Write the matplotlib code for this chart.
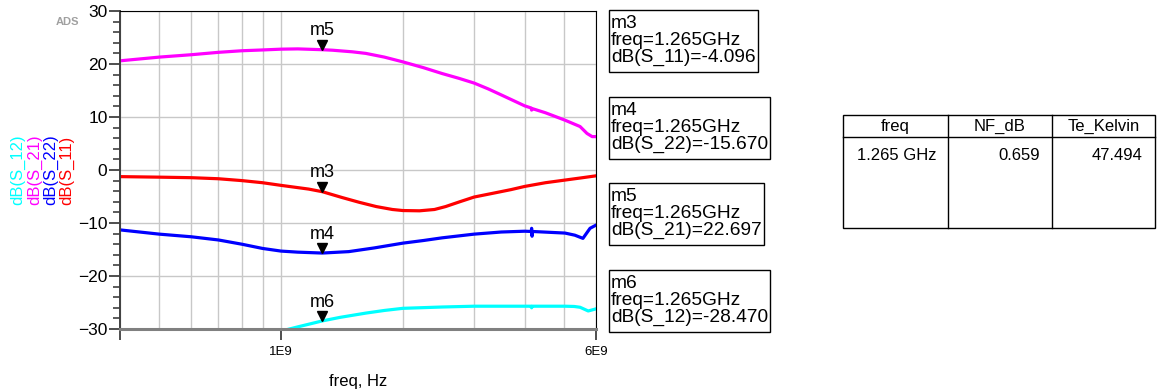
import matplotlib
matplotlib.use('Agg')
import numpy as np
import matplotlib.pyplot as plt
from matplotlib.ticker import FixedLocator, MultipleLocator
from matplotlib.transforms import offset_copy
from matplotlib.patches import Rectangle

plt.rcParams['font.family'] = ['Liberation Sans', 'DejaVu Sans']

# S-parameter sweep of the LNA, frequency in GHz, magnitude in dB
f_s21 = [0.4, 0.5, 0.6, 0.7, 0.8, 0.9, 1.0, 1.1, 1.265, 1.34, 1.5, 1.62, 1.8, 2.0, 2.25,
         2.5, 2.75, 3.0, 3.25, 3.47, 3.75, 4.0, 4.15, 4.16, 4.17, 4.5, 5.03, 5.48, 5.70, 5.87, 6.0]
s21 = [20.6, 21.3, 21.75, 22.2, 22.5, 22.65, 22.8, 22.85, 22.697, 22.6, 22.3, 22.0, 21.3, 20.4, 19.3,
       18.2, 17.3, 16.4, 15.3, 14.3, 13.1, 12.1, 11.7, 11.3, 11.6, 10.8, 9.4, 8.2, 6.9, 6.3, 6.3]

f_s11 = [0.4, 0.5, 0.6, 0.7, 0.8, 0.9, 1.0, 1.17, 1.265, 1.416, 1.561, 1.719, 1.884, 2.0, 2.198,
         2.394, 2.55, 2.762, 3.0, 3.333, 3.7, 4.0, 4.5, 5.03, 5.5, 6.0]
s11 = [-1.25, -1.35, -1.45, -1.65, -2.0, -2.4, -2.9, -3.6, -4.096, -5.2, -6.1, -6.9, -7.45, -7.65, -7.7,
       -7.45, -6.9, -6.0, -5.1, -4.4, -3.7, -3.1, -2.4, -1.9, -1.5, -1.1]

f_s22 = [0.4, 0.5, 0.6, 0.7, 0.8, 0.9, 1.0, 1.1, 1.265, 1.47, 1.7, 2.0, 2.25, 2.5, 3.0,
         3.5, 4.0, 4.15, 4.16, 4.17, 4.18, 5.03, 5.32, 5.57, 5.80, 6.0]
s22 = [-11.3, -12.1, -12.6, -13.2, -14.0, -14.8, -15.3, -15.5, -15.67, -15.4, -14.7, -13.8, -13.3, -12.8, -12.1,
       -11.7, -11.55, -11.6, -11.0, -12.5, -11.6, -11.9, -12.3, -12.9, -11.0, -10.4]

f_s12 = [1.0, 1.1, 1.265, 1.4, 1.62, 1.8, 2.0, 2.5, 3.0, 4.0, 4.15, 4.16, 4.17, 5.03, 5.3, 5.48, 5.74, 6.0]
s12 = [-30.4, -29.6, -28.47, -27.8, -27.0, -26.5, -26.1, -25.85, -25.7, -25.7, -25.7, -26.0, -25.7,
       -25.7, -25.75, -25.9, -26.6, -26.2]

# markers placed at 1.265 GHz
mkr_freq = 1.265
mkr_names = ['m3', 'm4', 'm5', 'm6']
mkr_traces = ['S_11', 'S_22', 'S_21', 'S_12']
mkr_values = [-4.096, -15.670, 22.697, -28.470]
mkr_box_top = [10, 97, 183, 270]

# noise figure listing
table_cols = ['freq', 'NF_dB', 'Te_Kelvin']
nf_freq = '1.265 GHz'
nf_db = 0.659
te_kelvin = 47.494

W, H = 1157, 392
fig = plt.figure(figsize=(W / 100, H / 100), dpi=100)

# overlay in pixel units for the marker readouts and the table
ov = fig.add_axes([0, 0, 1, 1], zorder=0)
ov.set_xlim(0, W)
ov.set_ylim(H, 0)
ov.axis('off')

ax = fig.add_axes([120 / W, 1 - 329 / H, 476 / W, 318 / H], zorder=1)

traces = [('S_11', f_s11, s11, '#ff0000'),
          ('S_22', f_s22, s22, '#0000ff'),
          ('S_21', f_s21, s21, '#ff00ff'),
          ('S_12', f_s12, s12, '#00ffff')]
colors = {}
for name, f, v, c in traces:
    ax.plot(np.array(f) * 1e9, v, color=c, lw=2.3, solid_joinstyle='round')
    colors[name] = c

ax.set_xscale('log')
ax.set_xlim(4e8, 6e9)
ax.set_ylim(-30, 30)

ax.xaxis.set_major_locator(FixedLocator([4e8, 1e9, 6e9]))
ax.set_xticklabels(['', '1E9', '6E9'])
ax.xaxis.set_minor_locator(FixedLocator([5e8, 6e8, 7e8, 8e8, 9e8, 2e9, 3e9, 4e9, 5e9]))
ax.yaxis.set_major_locator(MultipleLocator(10))
ax.yaxis.set_minor_locator(MultipleLocator(2))

ax.grid(axis='x', which='both', color='#c8c8c8', lw=1.0)
ax.grid(axis='y', which='major', color='#c8c8c8', lw=1.0)
ax.set_axisbelow(True)

ax.tick_params(axis='x', which='major', direction='out', length=8, width=1.3,
               color='#404040', labelsize=9.5, pad=4)
ax.tick_params(axis='x', which='minor', length=0)
ax.tick_params(axis='y', which='major', direction='out', length=8, width=1.3,
               color='#404040', labelsize=12.5, pad=1)
ax.tick_params(axis='y', which='minor', direction='out', length=5, width=1.2,
               color='#404040')

ax.spines['left'].set_color('#404040')
ax.spines['left'].set_linewidth(1.4)
ax.spines['bottom'].set_color('#808080')
ax.spines['bottom'].set_linewidth(2.2)
for s in ['top', 'right']:
    ax.spines[s].set_color('black')
    ax.spines[s].set_linewidth(0.8)

ax.set_xlabel('freq, Hz', fontsize=12, labelpad=12)

# marker triangles with their names
tri = offset_copy(ax.transData, fig=fig, y=3.5, units='points')
for name, val in zip(mkr_names, mkr_values):
    ax.plot(mkr_freq * 1e9, val, marker='v', ms=7, color='black', transform=tri,
            clip_on=False, zorder=5)
    ax.annotate(name, (mkr_freq * 1e9, val), xytext=(0, 13.5), textcoords='offset points',
                ha='center', va='center', fontsize=13, zorder=6)

# marker readout boxes, sized to the text
fig.canvas.draw()
renderer = fig.canvas.get_renderer()
for name, tr, val, top in zip(mkr_names, mkr_traces, mkr_values, mkr_box_top):
    txt = '%s\nfreq=%.3fGHz\ndB(%s)=%.3f' % (name, mkr_freq, tr, val)
    t = ov.text(611, top + 5, txt, fontsize=13.8, ha='left', va='top', linespacing=1.0)
    bw = t.get_window_extent(renderer).width
    ov.add_patch(Rectangle((609, top), bw + 4, 62, fill=False, ec='black', lw=1.0))

# trace names down the left side
for i, tr in enumerate(['S_12', 'S_21', 'S_22', 'S_11']):
    ov.text(18 + 16.3 * i, 205, 'dB(%s)' % tr, rotation=90, ha='center', va='bottom',
            fontsize=12, color=colors[tr])

ov.text(67, 22, 'ADS', fontsize=8, fontweight='bold', color='#909090',
        ha='center', va='center', alpha=0.85)

# noise figure table
tx0, tx1, ty0, ty1, th = 843, 1155, 115, 228, 137
col_x = [843, 948, 1052, 1155]
ov.add_patch(Rectangle((tx0, ty0), tx1 - tx0, ty1 - ty0, fill=False, ec='black', lw=1.0))
ov.plot([tx0, tx1], [th, th], color='black', lw=1.0)
for cx in col_x[1:-1]:
    ov.plot([cx, cx], [ty0, ty1], color='black', lw=1.0)
for i, c in enumerate(table_cols):
    ov.text((col_x[i] + col_x[i + 1]) / 2, 126, c, fontsize=12, ha='center', va='center')
ov.text(857, 155, nf_freq, fontsize=12, ha='left', va='center')
ov.text(1040, 155, '%.3f' % nf_db, fontsize=12, ha='right', va='center')
ov.text(1143, 155, '%.3f' % te_kelvin, fontsize=12, ha='right', va='center')

fig.savefig('out.png', dpi=100)
